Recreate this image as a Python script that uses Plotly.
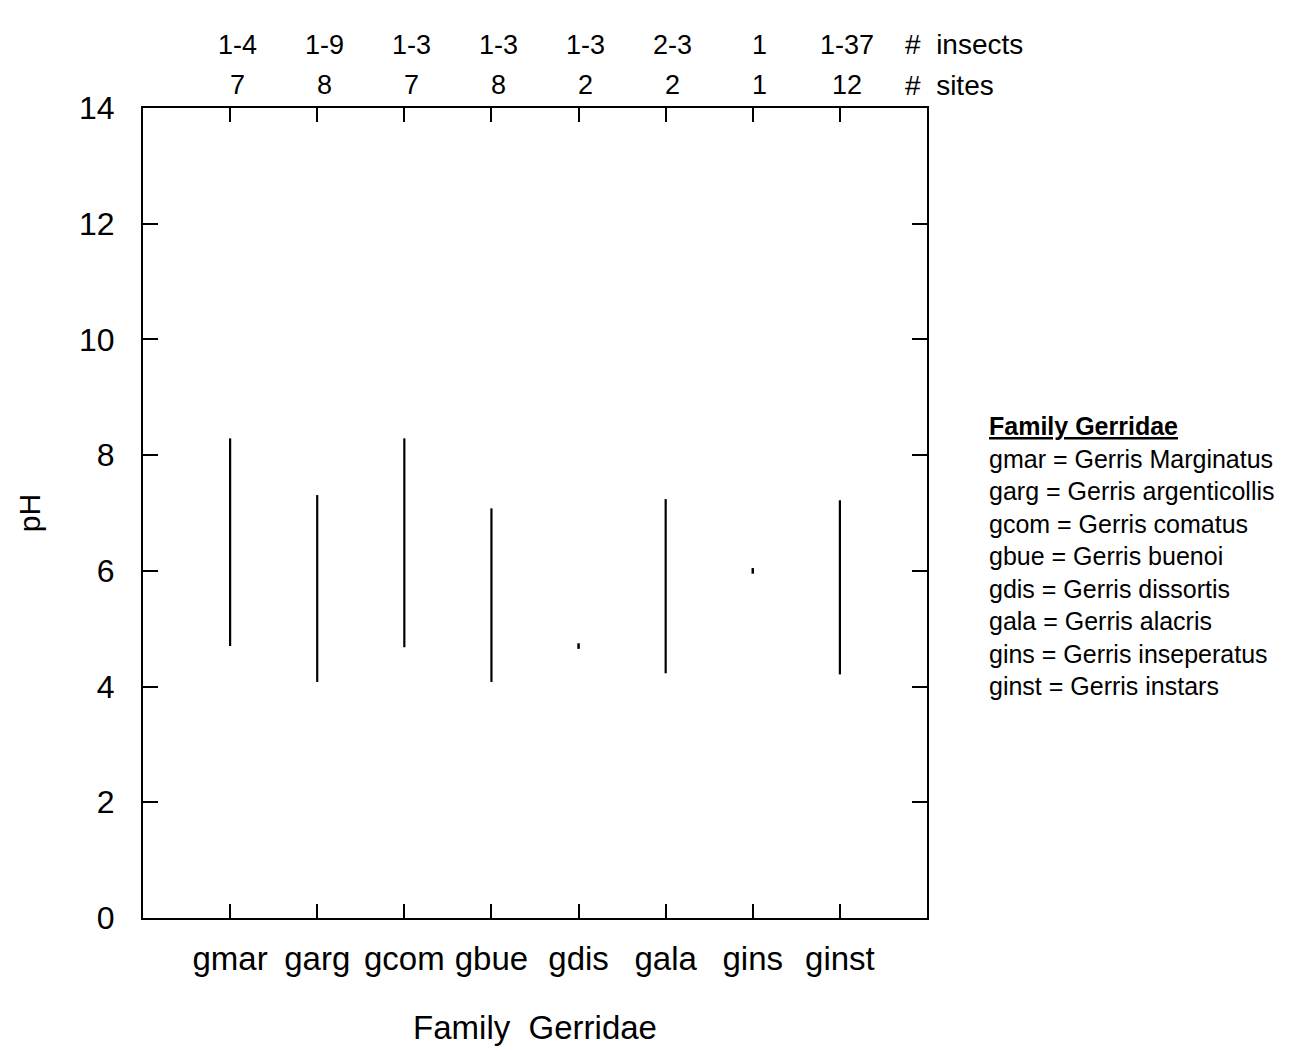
import plotly.graph_objects as go

categories = ["gmar", "garg", "gcom", "gbue", "gdis", "gala", "gins", "ginst"]
ph_min = [4.70, 4.08, 4.68, 4.08, 4.70, 4.23, 6.00, 4.21]
ph_max = [8.29, 7.31, 8.29, 7.08, 4.70, 7.24, 6.00, 7.22]
n_insects = ["1-4", "1-9", "1-3", "1-3", "1-3", "2-3", "1", "1-37"]
n_sites = ["7", "8", "7", "8", "2", "2", "1", "12"]
y_ticks = [0, 2, 4, 6, 8, 10, 12, 14]
legend_lines = [
    "gmar = Gerris Marginatus",
    "garg = Gerris argenticollis",
    "gcom = Gerris comatus",
    "gbue = Gerris buenoi",
    "gdis = Gerris dissortis",
    "gala = Gerris alacris",
    "gins = Gerris inseperatus",
    "ginst = Gerris instars",
]

FONT = "Liberation Sans, Arial, sans-serif"

seg_x, seg_y = [], []
dot_x, dot_y = [], []
for c, lo, hi in zip(categories, ph_min, ph_max):
    if hi > lo:
        seg_x += [c, c, None]
        seg_y += [lo, hi, None]
    else:
        dot_x.append(c)
        dot_y.append(lo)

fig = go.Figure()
fig.add_trace(go.Scatter(x=seg_x, y=seg_y, mode="lines",
                         line=dict(color="black", width=2.2),
                         showlegend=False, hoverinfo="skip"))
fig.add_trace(go.Scatter(x=dot_x, y=dot_y, mode="markers",
                         marker=dict(color="black", size=4, symbol="line-ns",
                                     line=dict(color="black", width=2.5)),
                         showlegend=False, hoverinfo="skip"))

annotations = []
for c, ins, s in zip(categories, n_insects, n_sites):
    annotations.append(dict(x=c, y=1.078, xref="x", yref="paper", text=ins,
                            showarrow=False, xshift=7, yanchor="middle",
                            font=dict(size=27, family=FONT, color="black")))
    annotations.append(dict(x=c, y=1.028, xref="x", yref="paper", text=s,
                            showarrow=False, xshift=7, yanchor="middle",
                            font=dict(size=27, family=FONT, color="black")))
annotations.append(dict(x=0.969, y=1.078, xref="paper", yref="paper", text="#  insects",
                        showarrow=False, xanchor="left", yanchor="middle",
                        font=dict(size=28, family=FONT, color="black")))
annotations.append(dict(x=0.969, y=1.028, xref="paper", yref="paper", text="#  sites",
                        showarrow=False, xanchor="left", yanchor="middle",
                        font=dict(size=28, family=FONT, color="black")))

legend_text = "<b><u>Family Gerridae</u></b><br>" + "<br>".join(legend_lines)
annotations.append(dict(x=(987 - 143) / 784, y=(918 - 410) / 810, xref="paper", yref="paper",
                        text=legend_text, showarrow=False, xanchor="left", yanchor="top",
                        align="left",
                        font=dict(size=25, family=FONT, color="black")))

fig.update_layout(
    width=1300, height=1051,
    margin=dict(l=143, r=373, t=108, b=133),
    paper_bgcolor="white", plot_bgcolor="white",
    font=dict(family=FONT, color="black"),
    annotations=annotations,
    xaxis=dict(
        type="category", categoryorder="array", categoryarray=categories,
        range=[-1, 8], showgrid=False, zeroline=False,
        showline=True, linecolor="black", linewidth=2, mirror="allticks",
        ticks="inside", ticklen=14, tickwidth=2, tickcolor="black",
        tickfont=dict(size=33, family=FONT, color="black"),
        ticklabelstandoff=10,
        title=dict(text="Family  Gerridae", font=dict(size=33, family=FONT, color="black"),
                   standoff=40),
    ),
    yaxis=dict(
        range=[0, 14], tickvals=y_ticks, showgrid=False, zeroline=False,
        showline=True, linecolor="black", linewidth=2, mirror="allticks",
        ticks="inside", ticklen=15, tickwidth=2, tickcolor="black",
        tickfont=dict(size=32, family=FONT, color="black"),
        ticklabelstandoff=20,
        title=dict(text="pH", font=dict(size=30, family=FONT, color="black"),
                   standoff=30),
    ),
)

fig.write_html("out.html")
